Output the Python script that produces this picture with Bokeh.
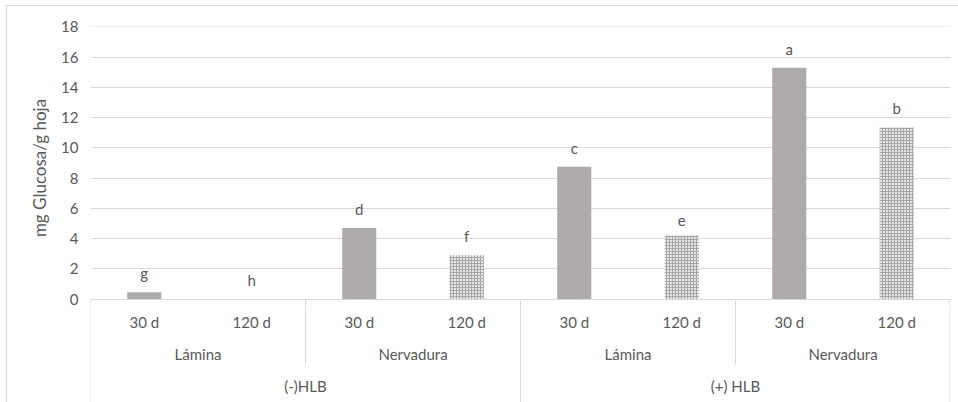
from bokeh.plotting import figure
from bokeh.layouts import column
from bokeh.models import ColumnDataSource, FixedTicker, Range1d
from bokeh.core.properties import value
from bokeh.embed import file_html
from bokeh.resources import INLINE

# ---- data ----
groups = ["(-)HLB", "(+) HLB"]
tissues = ["Lámina", "Nervadura"]
times = ["30 d", "120 d"]
glucose = [0.45, 0.0, 4.7, 2.9, 8.75, 4.2, 15.3, 11.35]
letters = ["g", "h", "d", "f", "c", "e", "a", "b"]
y_ticks = [0, 2, 4, 6, 8, 10, 12, 14, 16, 18]
y_title = "mg Glucosa/g hoja"

FONT = "Lato"
FS = "15px"
TXT = "#595959"
GRID = "#d9d9d9"
BAR = "#AEAAAA"

n = len(glucose)
xs = [i + 0.5 for i in range(n)]
time_lab = [times[i % 2] for i in range(n)]

solid = ColumnDataSource(dict(x=[xs[i] for i in range(n) if i % 2 == 0],
                              top=[glucose[i] for i in range(n) if i % 2 == 0]))
hatched = ColumnDataSource(dict(x=[xs[i] for i in range(n) if i % 2 == 1],
                                top=[glucose[i] for i in range(n) if i % 2 == 1]))
lab = ColumnDataSource(dict(x=xs, y=glucose, t=letters))

W = 951
LEFT, RIGHT = 83, 8
per_group = len(tissues) * len(times)
full_x = [g * per_group for g in range(len(groups) + 1)]
full_x[-1] = n - 0.004
part_x = [g * per_group + len(times) * t for g in range(len(groups))
          for t in range(1, len(tissues))]

y_lo = -0.69          # small strip below zero inside the top figure
y_time, y_tissue, y_group = -1.52, -3.63, -5.74
y_mid_sep = -4.35
y_bottom = -6.85

# ---- top figure: bars ----
p = figure(width=W, height=303, output_backend="svg", toolbar_location=None,
           x_range=Range1d(0, n), y_range=Range1d(y_lo, 18.03),
           x_axis_location=None, min_border_left=LEFT, min_border_right=RIGHT,
           min_border_top=20, min_border_bottom=0)
p.outline_line_color = None
p.xgrid.visible = False
p.ygrid.ticker = FixedTicker(ticks=y_ticks)
p.ygrid.grid_line_color = GRID
p.ygrid.grid_line_width = 1

ax = p.yaxis[0]
ax.ticker = FixedTicker(ticks=y_ticks)
ax.axis_line_color = None
ax.major_tick_line_color = None
ax.minor_tick_line_color = None
ax.major_label_text_color = TXT
ax.major_label_text_font = FONT
ax.major_label_text_font_size = FS
ax.major_label_standoff = 6
ax.axis_label = y_title
ax.axis_label_text_font = FONT
ax.axis_label_text_font_size = "17px"
ax.axis_label_text_font_style = "normal"
ax.axis_label_text_color = TXT
ax.axis_label_standoff = 8

bw = 0.317
p.vbar(x="x", top="top", bottom=0, width=bw, source=solid,
       fill_color=BAR, line_color=None)
p.vbar(x="x", top="top", bottom=0, width=bw, source=hatched,
       fill_color="#e6e6e6", line_color=None,
       hatch_pattern="cross", hatch_color="#a8a8a8",
       hatch_scale=3, hatch_weight=1)

p.text(x="x", y="y", text="t", source=lab, text_align="center",
       text_baseline="bottom", y_offset=-10, text_color=TXT,
       text_font=value(FONT), text_font_size=FS)

p.segment(x0=full_x + part_x, y0=[0] * (len(full_x) + len(part_x)),
          x1=full_x + part_x, y1=[y_lo] * (len(full_x) + len(part_x)),
          line_color=GRID, line_width=1)

# ---- bottom figure: multi-level category axis ----
q = figure(width=W, height=93, output_backend="svg", toolbar_location=None,
           x_range=p.x_range, y_range=Range1d(y_bottom, y_lo),
           x_axis_location=None, y_axis_location=None,
           min_border_left=LEFT, min_border_right=RIGHT,
           min_border_top=0, min_border_bottom=0)
q.outline_line_color = None
q.grid.visible = False

q.text(x=xs, y=[y_time] * n, text=time_lab, text_align="center",
       text_baseline="middle", text_color=TXT, text_font=value(FONT),
       text_font_size=FS)

t_x, t_lab = [], []
for g in range(len(groups)):
    for t in range(len(tissues)):
        start = (g * len(tissues) + t) * len(times)
        t_x.append(start + len(times) / 2)
        t_lab.append(tissues[t])
q.text(x=t_x, y=[y_tissue] * len(t_x), text=t_lab, text_align="center",
       text_baseline="middle", text_color=TXT, text_font=value(FONT),
       text_font_size=FS)

g_x = [g * per_group + per_group / 2 for g in range(len(groups))]
q.text(x=g_x, y=[y_group] * len(groups), text=groups, text_align="center",
       text_baseline="middle", text_color=TXT, text_font=value(FONT),
       text_font_size=FS)

q.segment(x0=full_x, y0=[y_lo] * len(full_x), x1=full_x, y1=[y_bottom] * len(full_x),
          line_color=GRID, line_width=1)
q.segment(x0=part_x, y0=[y_lo] * len(part_x), x1=part_x, y1=[y_mid_sep] * len(part_x),
          line_color=GRID, line_width=1)

layout = column(p, q, spacing=0, margin=(5, 0, 0, 6),
                styles={"border-left": "1px solid #d9d9d9",
                        "border-top": "1px solid #d9d9d9"})
open("out.html", "w").write(file_html(layout, INLINE))
